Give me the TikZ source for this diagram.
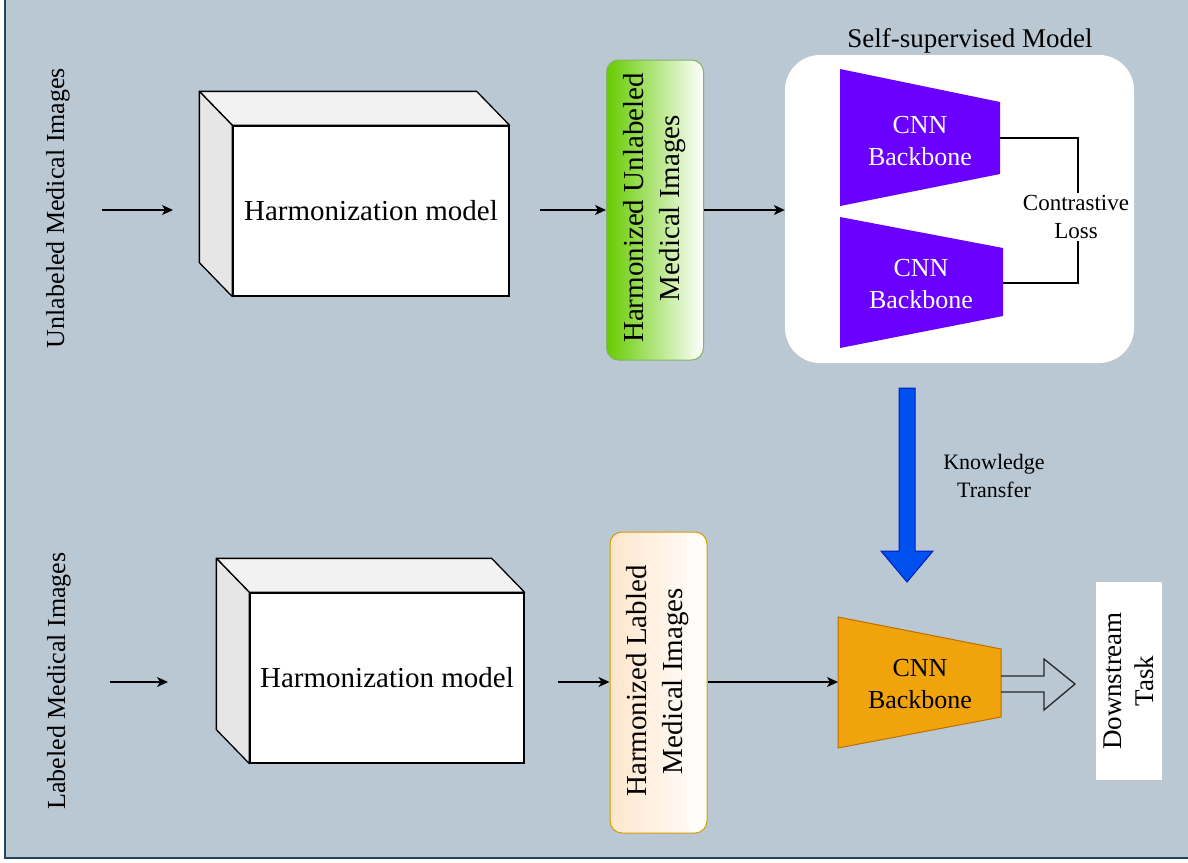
\documentclass[tikz,border=0pt]{standalone}
\usepackage{fontspec}
\setmainfont{Liberation Serif}
\usetikzlibrary{arrows.meta,calc}

\definecolor{bgc}{HTML}{BAC8D3}
\definecolor{framec}{HTML}{23445D}
\definecolor{greenfill}{HTML}{66CC00}
\definecolor{greenline}{HTML}{82B366}
\definecolor{peach}{HTML}{FFE6CC}
\definecolor{peachline}{HTML}{D79B00}
\definecolor{violetc}{HTML}{6A00FF}
\definecolor{amber}{HTML}{F0A30A}
\definecolor{amberline}{HTML}{BD7000}
\definecolor{kblue}{HTML}{0050EF}
\definecolor{kblueline}{HTML}{001DBC}
\definecolor{cubetop}{HTML}{F2F2F2}
\definecolor{cubeside}{HTML}{E6E6E6}

\tikzset{
  flow/.style={draw=black, line width=1.3pt, -{Stealth[length=11pt,width=10pt,inset=3pt]}},
  cubefront/.style={draw=black, fill=white, line width=1.3pt, minimum width=276pt,
    minimum height=170pt, inner sep=0pt, font=\fontsize{29}{34}\selectfont},
  cubeface/.style={draw=black, line width=1.3pt, line join=round},
  sidelabel/.style={rotate=90, font=\fontsize{26}{32}\selectfont},
  stagebox/.style={rounded corners=12pt, line width=1pt, minimum width=97pt,
    minimum height=300pt, inner sep=0pt},
  stagetext/.style={rotate=90, align=center, font=\fontsize{29}{36}\selectfont},
  cnntext/.style={align=center, font=\fontsize{26}{32}\selectfont},
  smalltext/.style={align=center, font=\fontsize{22}{28}\selectfont},
}

% draws the top and left faces of a box whose front face is node #1
\newcommand{\boxfaces}[1]{%
  \path[cubeface, fill=cubetop] (#1.north west) -- ++(-33,-34)
     -- ($(#1.north east)+(-33,-34)$) -- (#1.north east) -- cycle;
  \path[cubeface, fill=cubeside] (#1.north west) -- ++(-33,-34)
     -- ($(#1.south west)+(-33,-34)$) -- (#1.south west) -- cycle;
}

\begin{document}
\begin{tikzpicture}[x=1pt, y=-1pt]
  \useasboundingbox (0,0) rectangle (1188,862);
  \clip (0,0) rectangle (1188,862);

  % canvas
  \fill[bgc] (5,-10) rectangle (1200,858);
  \draw[framec, line width=1.5pt] (5,-10) -- (5,858) -- (1200,858);

  % ---------- upper row: self-supervised pre-training ----------
  \node[sidelabel] (ulab) at (58,208) {Unlabeled Medical Images};
  \coordinate (u0) at (102,210);
  \coordinate (u1) at (173,210);
  \draw[flow] (u0) -- (u1);

  \node[cubefront] (h1) at (371,211) {Harmonization model};
  \boxfaces{h1}

  \node[stagebox, draw=greenline, left color=greenfill, right color=white]
    (g1) at (655,210) {};
  \node[stagetext] (g1t) at (655,208) {Harmonized Unlabeled\\Medical Images};
  \coordinate (u2) at (540,210);
  \draw[flow] (u2) -- (g1.west);

  \node[fill=white, rounded corners=35pt, minimum width=349pt, minimum height=308pt,
    inner sep=0pt] (ss) at (959.5,209) {};
  \node[font=\fontsize{27}{32}\selectfont, anchor=base] (sstitle) at (970,47)
    {Self-supervised Model};
  \draw[flow] (g1.east) -- (g1.east -| ss.west);

  \fill[violetc] (840,69) -- (1000,102) -- (1000,174) -- (840,206) -- cycle;
  \node[cnntext, text=white] (cnn1) at (920,141) {CNN\\Backbone};
  \fill[violetc] (840,217) -- (1003,248) -- (1003,316) -- (840,348) -- cycle;
  \node[cnntext, text=white] (cnn2) at (921,284) {CNN\\Backbone};

  \coordinate (c1r) at (1000,138);
  \coordinate (c2r) at (1003,283);
  \draw[line width=2pt] (c1r) -- (1078,138) -- (1078,283) -- (c2r);
  \node[smalltext, fill=white, inner sep=2pt, font=\fontsize{23}{28}\selectfont]
    (closs) at (1076,217) {Contrastive\\Loss};

  % ---------- knowledge transfer ----------
  \filldraw[fill=kblue, draw=kblueline, line width=1pt]
    (899,388) -- (915,388) -- (915,551) -- (933,551) -- (907,582)
    -- (881,551) -- (899,551) -- cycle;
  \node[smalltext] (kt) at (994,476) {Knowledge\\Transfer};

  % ---------- lower row: downstream fine-tuning ----------
  \node[sidelabel] (llab) at (59,681) {Labeled Medical Images};
  \coordinate (l0) at (110,682);
  \coordinate (l1) at (168,682);
  \draw[flow] (l0) -- (l1);

  \node[cubefront, minimum width=274pt] (h2) at (387,678) {Harmonization model};
  \boxfaces{h2}

  \node[stagebox, draw=peachline, left color=peach, right color=white,
    minimum height=301pt] (o1) at (658.5,682.5) {};
  \node[stagetext] (o1t) at (658,681) {Harmonized Labled\\Medical Images};
  \coordinate (l2) at (558,682);
  \draw[flow] (l2) -- (l2 -| o1.west);

  \filldraw[fill=amber, draw=amberline, line width=1pt]
    (838,617) -- (1001,649) -- (1001,717) -- (838,748) -- cycle;
  \node[cnntext] (cnn3) at (920,684) {CNN\\Backbone};
  \coordinate (cnn3in) at (838,682);
  \draw[flow] (o1.east |- cnn3in) -- (cnn3in);

  \coordinate (out0) at (1001,684);
  \draw[line width=1.3pt, draw=black!85, line join=miter]
    ($(out0)+(0,-8)$) -- (1044,676) -- (1044,659) -- (1075,684)
    -- (1044,710) -- (1044,692) -- ($(out0)+(0,8)$);

  \node[fill=white, minimum width=66pt, minimum height=198pt, inner sep=0pt]
    (ds) at (1129,681) {};
  \node[rotate=90, align=center, font=\fontsize{27}{32}\selectfont] (dst)
    at (ds.center) {Downstream\\Task};
\end{tikzpicture}
\end{document}
